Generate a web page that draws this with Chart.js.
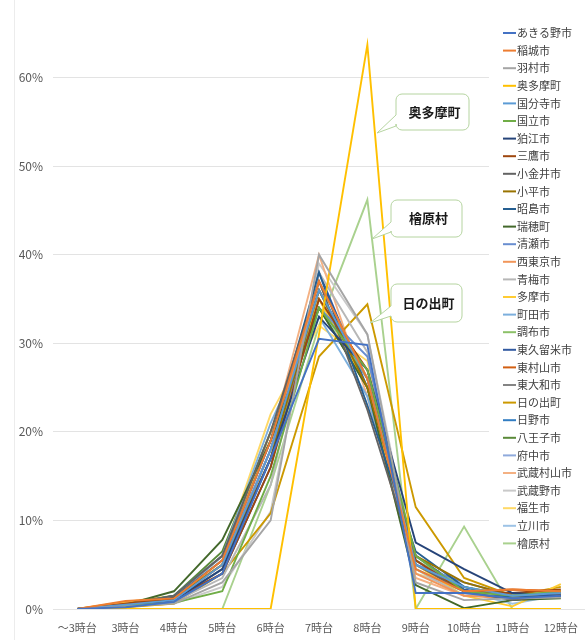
<!DOCTYPE html>
<html>
<head>
<meta charset="utf-8">
<script src="https://cdn.jsdelivr.net/npm/chart.js@4"></script>
<style>
  html, body { margin: 0; background: #fff; }
  #wrap { position: relative; width: 588px; height: 640px; }
  #frame { position: absolute; left: 14px; top: 0; width: 1px; height: 640px; background: #ececec; }
</style>
</head>
<body>
<div id="wrap"><div id="frame"></div><canvas id="chart" width="588" height="640"></canvas></div>
<script>
const categories = ['～3時台', '3時台', '4時台', '5時台', '6時台', '7時台', '8時台', '9時台', '10時台', '11時台', '12時台'];
const yTicks = [0, 10, 20, 30, 40, 50, 60];

const seriesNames = [
    'あきる野市', '稲城市', '羽村市', '奥多摩町', '国分寺市', '国立市', '狛江市', '三鷹市', '小金井市', '小平市',
    '昭島市', '瑞穂町', '清瀬市', '西東京市', '青梅市', '多摩市', '町田市', '調布市', '東久留米市', '東村山市',
    '東大和市', '日の出町', '日野市', '八王子市', '府中市', '武蔵村山市', '武蔵野市', '福生市', '立川市', '檜原村'
];

// share of commuters leaving in each hour (%)
const seriesValues = [
    [0, 0.2, 0.8, 4.0, 17, 30.5, 29.8, 1.8, 1.8, 1.2, 1.5],
    [0, 0.9, 1.2, 5.5, 19, 37, 26, 4.5, 2.0, 2.2, 2.0],
    [0, 0.3, 0.6, 3.0, 10, 40, 31, 3.0, 1.0, 1.2, 1.3],
    [0, 0, 0, 0, 0, 31, 63.7, 0, 0, 0, 0],
    [0, 0.5, 1.0, 5.0, 18, 36, 26, 5.0, 2.5, 1.5, 1.8],
    [0, 0.4, 0.7, 2.0, 15, 34, 27, 6.0, 2.0, 1.5, 2.0],
    [0, 0.3, 1.0, 4.5, 17, 33, 27, 7.5, 4.5, 1.8, 1.5],
    [0, 0.6, 1.2, 4.0, 16, 35, 27, 5.5, 2.0, 1.8, 2.2],
    [0, 0.5, 1.5, 6.0, 20, 37, 22.5, 5.0, 2.0, 1.0, 1.6],
    [0, 0.4, 1.2, 5.0, 17, 36, 25, 6.0, 3.0, 1.5, 1.8],
    [0, 0.3, 1.3, 5.5, 19, 38, 23, 6.5, 2.5, 1.3, 1.5],
    [0, 0.5, 2.0, 7.8, 19, 34, 25, 2.7, 0.1, 1.0, 1.2],
    [0, 0.5, 1.0, 4.5, 18, 34, 28.5, 5.0, 3.0, 1.5, 1.5],
    [0, 0.6, 1.0, 5.0, 18, 37, 26, 4.0, 1.5, 1.2, 1.6],
    [0, 0.3, 0.8, 3.5, 14, 38, 29, 4.5, 1.5, 1.8, 1.5],
    [0, 0.8, 1.2, 5.0, 20, 35, 25, 5.0, 1.5, 0.3, 2.8],
    [0, 0.6, 1.3, 6.0, 21, 33, 24, 5.5, 2.0, 1.0, 1.7],
    [0, 0.4, 1.0, 4.5, 17, 35, 26, 5.5, 2.5, 1.5, 2.0],
    [0, 0.5, 0.9, 4.0, 16, 38, 25, 6.0, 2.2, 1.3, 1.6],
    [0, 0.7, 1.3, 5.0, 18, 36, 26, 5.0, 2.0, 2.2, 2.0],
    [0, 0.5, 1.1, 5.0, 17, 37, 26, 5.0, 2.0, 1.5, 1.8],
    [0, 0.2, 0.6, 4.0, 10.8, 28.5, 34.4, 11.5, 3.5, 1.5, 2.5],
    [0, 0.5, 1.5, 6.0, 19, 36, 25, 4.5, 2.0, 1.2, 1.5],
    [0, 0.6, 1.5, 6.5, 20, 34, 25, 5.0, 2.5, 1.3, 1.6],
    [0, 0.5, 1.0, 5.0, 18, 35, 26, 6.0, 2.0, 1.5, 1.7],
    [0, 0.8, 1.4, 6.0, 19, 40, 24, 3.5, 1.5, 1.5, 1.6],
    [0, 0.3, 0.6, 2.5, 11, 39, 31, 4.0, 2.0, 1.5, 1.5],
    [0, 0.8, 1.5, 6.0, 22, 32, 28, 4.0, 2.5, 1.5, 2.0],
    [0, 0.6, 1.2, 5.0, 19, 34, 26, 5.5, 2.0, 0.6, 1.6],
    [0, 0, 0, 0, 14, 32, 46.2, 0, 9.3, 0, 0]
];

const calloutLabels = ['奥多摩町', '檜原村', '日の出町'];

// Excel-style series palette
const palette = [
    '#4472C4', '#ED7D31', '#A5A5A5', '#FFC000', '#5B9BD5', '#70AD47',
    '#264479', '#9E470E', '#636363', '#997300', '#255E91', '#43682B',
    '#698ED0', '#F1965A', '#B7B7B7', '#FFCC33', '#7CAFDD', '#8CC168',
    '#325AA1', '#D25F12', '#848484', '#CC9900', '#327DC2', '#5A8A39',
    '#8FAADC', '#F4B183', '#C9C9C9', '#FFD966', '#9DC3E6', '#A9D18E'
];

const FONT = '"Noto Sans CJK JP", "Noto Sans", sans-serif';

// legend drawn over the right side of the plot, on a white box
const legendBox = {
    id: 'legendBox',
    afterDraw(chart) {
        const ctx = chart.ctx;
        ctx.save();
        ctx.fillStyle = '#fff';
        ctx.fillRect(489, 16, 99, 540);
        ctx.font = '11px ' + FONT;
        ctx.textBaseline = 'middle';
        chart.data.datasets.forEach((ds, i) => {
            const y = 33 + i * 17.6;
            ctx.strokeStyle = ds.borderColor;
            ctx.lineWidth = 2;
            ctx.beginPath();
            ctx.moveTo(503, y);
            ctx.lineTo(516, y);
            ctx.stroke();
            ctx.fillStyle = '#404040';
            ctx.fillText(ds.label, 517, y);
        });
        ctx.restore();
    }
};

// speech-bubble labels for the three outliers
const callouts = {
    id: 'callouts',
    afterDraw(chart) {
        const boxes = [
            { x: 396, y: 94, w: 73, h: 36, tail: [115, 126], tip: [377, 133] },
            { x: 391, y: 200, w: 71, h: 37, tail: [222, 232], tip: [372, 239] },
            { x: 391, y: 284, w: 71, h: 38, tail: [306, 316], tip: [370, 323] }
        ];
        const ctx = chart.ctx;
        ctx.save();
        boxes.forEach((b, i) => {
            const r = 6;
            ctx.beginPath();
            ctx.moveTo(b.x + r, b.y);
            ctx.lineTo(b.x + b.w - r, b.y);
            ctx.arcTo(b.x + b.w, b.y, b.x + b.w, b.y + r, r);
            ctx.lineTo(b.x + b.w, b.y + b.h - r);
            ctx.arcTo(b.x + b.w, b.y + b.h, b.x + b.w - r, b.y + b.h, r);
            ctx.lineTo(b.x + r, b.y + b.h);
            ctx.arcTo(b.x, b.y + b.h, b.x, b.y + b.h - r, r);
            ctx.lineTo(b.x, b.tail[1]);
            ctx.lineTo(b.tip[0], b.tip[1]);
            ctx.lineTo(b.x, b.tail[0]);
            ctx.lineTo(b.x, b.y + r);
            ctx.arcTo(b.x, b.y, b.x + r, b.y, r);
            ctx.closePath();
            ctx.fillStyle = '#fff';
            ctx.fill();
            ctx.strokeStyle = '#B5D4A0';
            ctx.lineWidth = 1;
            ctx.stroke();
            ctx.fillStyle = '#1a1a1a';
            ctx.font = 'bold 13px ' + FONT;
            ctx.textAlign = 'center';
            ctx.textBaseline = 'middle';
            ctx.fillText(calloutLabels[i], b.x + b.w / 2 + 2, b.y + b.h / 2);
        });
        ctx.restore();
    }
};

new Chart(document.getElementById('chart'), {
    type: 'line',
    data: {
        labels: categories,
        datasets: seriesNames.map((name, i) => ({
            label: name,
            data: seriesValues[i],
            borderColor: palette[i],
            backgroundColor: palette[i],
            borderWidth: 1.9,
            pointRadius: 0,
            tension: 0,
            fill: false
        }))
    },
    options: {
        responsive: false,
        animation: false,
        layout: { padding: { top: 20, right: 3, bottom: 0, left: 0 } },
        plugins: {
            legend: { display: false },
            tooltip: { enabled: false }
        },
        scales: {
            x: {
                offset: true,
                grid: { display: false },
                border: { display: false },
                ticks: { color: '#595959', font: { family: FONT, size: 11 }, padding: 4, maxRotation: 0, autoSkip: false },
                afterFit: s => { s.height = 31; }
            },
            y: {
                min: 0,
                max: 66.5,
                afterBuildTicks: s => { s.ticks = yTicks.map(v => ({ value: v })); },
                grid: { color: '#e3e3e3', lineWidth: 1, drawTicks: false },
                border: { display: false },
                ticks: { color: '#595959', font: { family: FONT, size: 12 }, padding: 10, callback: v => v + '%' },
                afterFit: s => { s.width = 53; }
            }
        }
    },
    plugins: [legendBox, callouts]
});
</script>
</body>
</html>
